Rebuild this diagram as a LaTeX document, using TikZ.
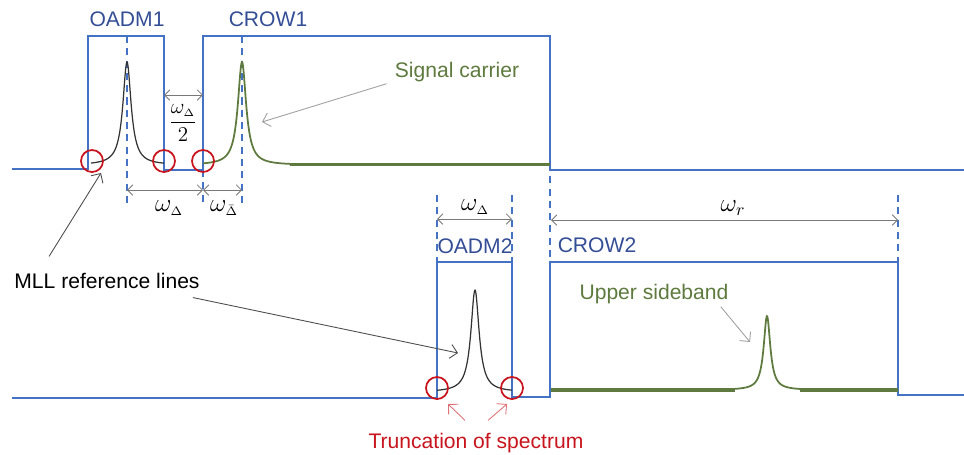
\documentclass[tikz,border=0pt]{standalone}
\usepackage{amsmath}
\usepackage{fontspec}
\setmainfont{Liberation Sans}
\usepackage{tikz}
\usetikzlibrary{arrows.meta,calc}
\definecolor{boxblue}{RGB}{68,114,196}
\definecolor{labelblue}{RGB}{52,78,150}
\definecolor{carriergreen}{RGB}{94,122,62}
\definecolor{circlered}{RGB}{200,20,28}
\definecolor{notegray}{RGB}{120,120,120}

\begin{document}
\begin{tikzpicture}[x=0.02cm, y=-0.02cm,
  every node/.style={font=\fontsize{12}{14}\selectfont, inner sep=0pt, align=center},
  filter/.style={boxblue, line width=1pt},
  guide/.style={boxblue, line width=0.8pt, dash pattern=on 4pt off 3pt},
  dim/.style={notegray, line width=0.5pt, {Straight Barb[length=3pt]}-{Straight Barb[length=3pt]}},
  note/.style={notegray, line width=0.5pt, -{Straight Barb[length=4pt]}},
  trunc/.style={circlered, line width=1pt},
  omega/.style={font=\fontsize{14}{16}\selectfont}]
  \useasboundingbox (0,0) rectangle (964,454);
  \def\lw{5}

  % Upper filter chain
  \draw[filter] (12,169) -- (88,169) -- (88,36) -- (164,36) -- (164,170) -- (203,170)
    -- (203,36) -- (550,36) -- (550,170) -- (964,170);
  % Lower filter chain
  \draw[filter] (12,398) -- (437,398) -- (437,262) -- (512,262) -- (512,397) -- (550,397)
    -- (550,262) -- (898,262) -- (898,395) -- (964,395);

  % dashed guides
  \foreach \x/\ya/\yb in {127/36/205, 242/36/205, 203/170/205, 550/127/262,
                          437/195/262, 512/195/262, 898/195/262} {
    \draw[guide] (\x,\ya) -- (\x,\yb);
  }

  % spectral lines
  \draw[black!80, line width=0.7pt] plot[domain=91:164, samples=160, smooth]
    (\x, {165-103/(1+((\x-127)/\lw)^2)});
  \draw[carriergreen, line width=1pt] plot[domain=203:290, samples=160, smooth]
    (\x, {165-103/(1+((\x-242)/\lw)^2)});
  \draw[carriergreen, line width=2pt] (290,164.5) -- (550,164.5);
  \draw[black!80, line width=0.7pt] plot[domain=437:512, samples=160, smooth]
    (\x, {392-102/(1+((\x-475)/\lw)^2)});
  \draw[carriergreen, line width=1pt] plot[domain=735:800, samples=140, smooth]
    (\x, {390-74/(1+((\x-767)/4)^2)});
  \draw[carriergreen, line width=2pt] (551,390) -- (735,390);
  \draw[carriergreen, line width=2pt] (800,390) -- (898,390);

  % truncation points
  \foreach \x/\y in {92/161, 164/161, 203/161, 437/388, 512/388} {
    \draw[trunc] (\x,\y) circle (11);
  }

  % filter labels
  \node[text=labelblue, anchor=base] (oadm1) at (127,26) {OADM1};
  \node[text=labelblue, anchor=base] (crow1) at (268,26) {CROW1};
  \node[text=labelblue, anchor=base] (oadm2) at (475,253) {OADM2};
  \node[text=labelblue, anchor=base] (crow2) at (597,252) {CROW2};

  % spacings
  \coordinate (halfL) at (164,95);
  \coordinate (halfR) at (203,95);
  \coordinate (dA) at (127,190);
  \coordinate (dB) at (203,190);
  \coordinate (dC) at (242,190);
  \coordinate (oL) at (437,219);
  \coordinate (oR) at (512,219);
  \coordinate (rL) at (551,220);
  \coordinate (rR) at (898,220);
  \draw[dim] (halfL) -- (halfR);
  \draw[dim] (dA) -- (dB);
  \draw[dim] (dB) -- (dC);
  \draw[dim] (oL) -- (oR);
  \draw[dim] (rL) -- (rR);
  \node[font=\fontsize{13}{15}\selectfont] (half) at (183,123) {$\dfrac{\omega_{\scriptscriptstyle\Delta}}{2}$};
  \node[omega] (wd1) at (169,208) {$\omega_{\scriptscriptstyle\Delta}$};
  \node[omega] (wd2) at (224,208) {$\omega_{\scriptscriptstyle\bar\Delta}$};
  \node[omega] (wd3) at (475,207) {$\omega_{\scriptscriptstyle\Delta}$};
  \node[omega] (wr) at (733,208) {$\omega_r$};

  % annotations
  \node[text=carriergreen, anchor=base] (carrier) at (457,77) {Signal carrier};
  \node[text=carriergreen, anchor=base] (sideband) at (654,299) {Upper sideband};
  \node[anchor=base] (mll) at (107,288) {MLL reference lines};
  \node[text=circlered, anchor=base] (truncation) at (476,448) {Truncation of spectrum};
  \coordinate (carrierTip) at (262,122);
  \coordinate (sidebandTip) at (750,342);
  \coordinate (mllTipA) at (101,173);
  \coordinate (mllTipB) at (458,353);
  \coordinate (truncTipA) at (448,404);
  \coordinate (truncTipB) at (507,404);
  \draw[note, notegray!70] ($(carrier.south west)+(-8,2)$) -- (carrierTip);
  \draw[note, notegray!70] ($(sideband.south east)+(-8,3)$) -- (sidebandTip);
  \draw[note, black!70] ($(mll.north west)+(35,-16)$) -- (mllTipA);
  \draw[note, black!70] ($(mll.south east)+(-7,9)$) -- (mllTipB);
  \draw[note, circlered!60] ($(truncation.north)+(-11,-12)$) -- (truncTipA);
  \draw[note, circlered!60] ($(truncation.north)+(12,-12)$) -- (truncTipB);
\end{tikzpicture}
\end{document}
